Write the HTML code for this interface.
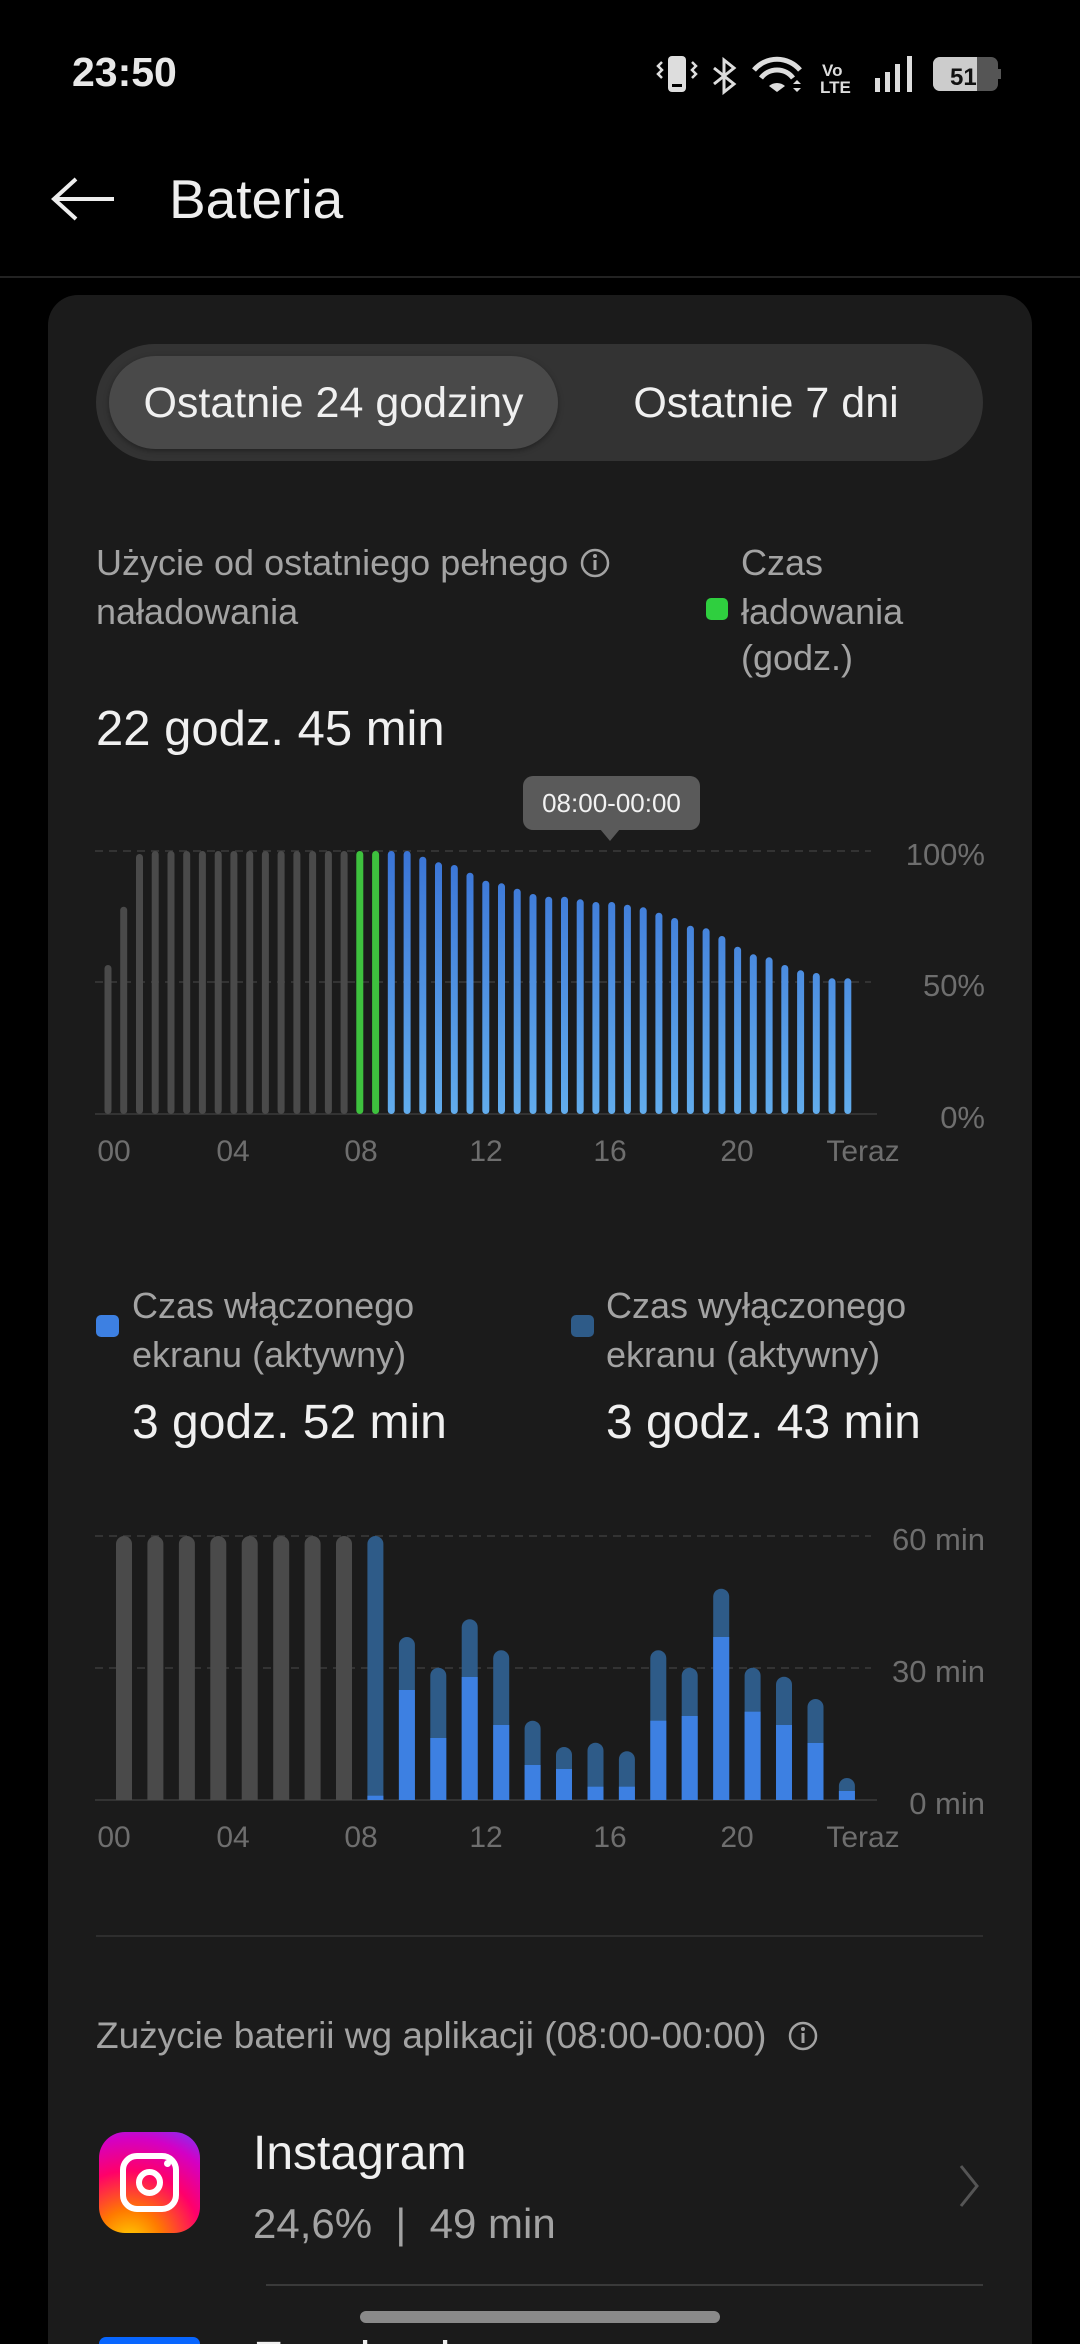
<!DOCTYPE html>
<html><head><meta charset="utf-8">
<style>
*{margin:0;padding:0;box-sizing:border-box}
html,body{width:1080px;height:2344px;overflow:hidden}
body{background:#000;position:relative;font-family:"Liberation Sans","DejaVu Sans",sans-serif;color:#f0f0f0}
.t{position:absolute;white-space:nowrap;line-height:1}
.card{position:absolute;left:48px;top:295px;width:984px;height:2049px;background:#1b1b1b;border-radius:30px 30px 0 0}
.sec{color:#a3a3a3}
</style></head><body>
<div class="t" style="left:72px;top:52px;font-size:41px;font-weight:bold;color:#e8e8e8">23:50</div>
<svg style="position:absolute;left:640px;top:40px" width="380" height="70">
 <rect x="28" y="16" width="18" height="36" rx="4" fill="#ddd"/><rect x="32" y="44" width="10" height="3" fill="#000"/>
 <path d="M22 22 l-4 4 4 4 -4 4 4 4 M52 22 l4 4 -4 4 4 4 -4 4" stroke="#ddd" stroke-width="2.5" fill="none"/>
 <path d="M74 28 l20 16 -10 8 v-32 l10 8 -20 16" stroke="#ddd" stroke-width="3" fill="none"/>
 <path d="M114 30 a30 30 0 0 1 46 0" stroke="#ddd" stroke-width="5" fill="none"/>
 <path d="M121 38 a20 20 0 0 1 32 0" stroke="#ddd" stroke-width="5" fill="none"/>
 <path d="M129 46 l8 6 8 -6 a12 12 0 0 0 -16 0z" fill="#ddd"/>
 <path d="M153 44 l4 -4 4 4z M153 48 l4 4 4 -4z" fill="#ddd"/>
 <text x="182" y="36" font-size="17" font-weight="bold" fill="#ddd" font-family="Liberation Sans">Vo</text>
 <text x="180" y="53" font-size="17" font-weight="bold" fill="#ddd" font-family="Liberation Sans">LTE</text>
 <rect x="235" y="38" width="5" height="14" fill="#ddd"/><rect x="245" y="32" width="5" height="20" fill="#ddd"/><rect x="255" y="24" width="5" height="28" fill="#ddd"/><rect x="267" y="16" width="5" height="36" fill="#ddd"/>
 <rect x="293" y="17" width="65" height="34" rx="7" fill="#555"/><path d="M300 17 h37 v34 h-37 a7 7 0 0 1 -7 -7 v-20 a7 7 0 0 1 7 -7z" fill="#ccc"/>
 <rect x="358" y="29" width="3" height="10" fill="#555"/>
 <text x="310" y="45" font-size="24" font-weight="bold" fill="#111" font-family="Liberation Sans">51</text>
</svg>
<svg style="position:absolute;left:50px;top:177px" width="70" height="45"><path d="M4 22 H64 M26 2 L4 22 L26 42" stroke="#eee" stroke-width="4" fill="none"/></svg>
<div class="t" style="left:169px;top:172px;font-size:55px;color:#eee">Bateria</div>
<div style="position:absolute;left:0;top:276px;width:1080px;height:2px;background:#222"></div>

<div class="card"></div>
<div style="position:absolute;left:96px;top:344px;width:887px;height:117px;background:#333;border-radius:59px"></div>
<div style="position:absolute;left:109px;top:356px;width:449px;height:93px;background:#494949;border-radius:47px;box-shadow:0 2px 6px rgba(0,0,0,.35)"></div>
<div class="t" style="left:109px;width:449px;text-align:center;top:382px;font-size:43px">Ostatnie 24 godziny</div>
<div class="t" style="left:558px;width:416px;text-align:center;top:382px;font-size:43px">Ostatnie 7 dni</div>

<div class="t sec" style="left:96px;top:545px;font-size:36px">Użycie od ostatniego pełnego</div>
<svg style="position:absolute;left:579px;top:547px" width="32" height="32"><circle cx="16" cy="16" r="13" stroke="#a3a3a3" stroke-width="2.5" fill="none"/><rect x="14.5" y="13" width="3" height="10" fill="#a3a3a3"/><circle cx="16" cy="9" r="2" fill="#a3a3a3"/></svg>
<div class="t sec" style="left:96px;top:594px;font-size:36px">naładowania</div>
<div class="t sec" style="left:741px;top:545px;font-size:36px">Czas</div>
<div style="position:absolute;left:706px;top:598px;width:22px;height:22px;border-radius:5px;background:#2fcf3f"></div>
<div class="t sec" style="left:741px;top:594px;font-size:36px">ładowania</div>
<div class="t sec" style="left:741px;top:640px;font-size:36px">(godz.)</div>
<div class="t" style="left:96px;top:705px;font-size:49px">22 godz. 45 min</div>

<svg style="position:absolute;left:0;top:0" width="1080" height="2344" font-family="Liberation Sans">
<defs>
<linearGradient id="bg" x1="0" y1="851" x2="0" y2="1114" gradientUnits="userSpaceOnUse"><stop offset="0" stop-color="#3a74d6"/><stop offset="1" stop-color="#62acec"/></linearGradient>
<clipPath id="c2"><rect x="0" y="1400" width="1080" height="400"/></clipPath>
</defs>
<rect x="523" y="776" width="177" height="54" rx="10" fill="#5a5a5a"/>
<path d="M600 829 L610 841 L620 829z" fill="#5a5a5a"/>
<text x="611.5" y="812" font-size="26" fill="#f2f2f2" text-anchor="middle">08:00-00:00</text>
<line x1="95" y1="851" x2="871" y2="851" stroke="#333" stroke-width="2" stroke-dasharray="8 6"/>
<line x1="95" y1="982" x2="871" y2="982" stroke="#333" stroke-width="2" stroke-dasharray="8 6"/>
<line x1="95" y1="1114" x2="877" y2="1114" stroke="#333" stroke-width="2"/>
<g fill="#4a4a4a">
<rect x="104.5" y="965" width="7" height="149" rx="3.5"/>
<rect x="120.2" y="906.7" width="7" height="207.3" rx="3.5"/>
<rect x="136.0" y="854" width="7" height="260" rx="3.5"/>
<rect x="151.7" y="851" width="7" height="263" rx="3.5"/>
<rect x="167.5" y="851" width="7" height="263" rx="3.5"/>
<rect x="183.2" y="851" width="7" height="263" rx="3.5"/>
<rect x="198.9" y="851" width="7" height="263" rx="3.5"/>
<rect x="214.7" y="851" width="7" height="263" rx="3.5"/>
<rect x="230.4" y="851" width="7" height="263" rx="3.5"/>
<rect x="246.2" y="851" width="7" height="263" rx="3.5"/>
<rect x="261.9" y="851" width="7" height="263" rx="3.5"/>
<rect x="277.6" y="851" width="7" height="263" rx="3.5"/>
<rect x="293.4" y="851" width="7" height="263" rx="3.5"/>
<rect x="309.1" y="851" width="7" height="263" rx="3.5"/>
<rect x="324.9" y="851" width="7" height="263" rx="3.5"/>
<rect x="340.6" y="851" width="7" height="263" rx="3.5"/>
</g>
<g fill="#3ec13e">
<rect x="356.3" y="851" width="7" height="263" rx="3.5"/>
<rect x="372.1" y="851" width="7" height="263" rx="3.5"/>
</g>
<g fill="url(#bg)">
<rect x="387.8" y="851" width="7" height="263" rx="3.5"/>
<rect x="403.6" y="851" width="7" height="263" rx="3.5"/>
<rect x="419.3" y="856.7" width="7" height="257.3" rx="3.5"/>
<rect x="435.0" y="862.3" width="7" height="251.7" rx="3.5"/>
<rect x="450.8" y="865" width="7" height="249" rx="3.5"/>
<rect x="466.5" y="872.7" width="7" height="241.3" rx="3.5"/>
<rect x="482.3" y="880.7" width="7" height="233.3" rx="3.5"/>
<rect x="498.0" y="883.3" width="7" height="230.7" rx="3.5"/>
<rect x="513.7" y="888.7" width="7" height="225.3" rx="3.5"/>
<rect x="529.5" y="894" width="7" height="220" rx="3.5"/>
<rect x="545.2" y="896.7" width="7" height="217.3" rx="3.5"/>
<rect x="561.0" y="896.7" width="7" height="217.3" rx="3.5"/>
<rect x="576.7" y="899.3" width="7" height="214.7" rx="3.5"/>
<rect x="592.4" y="902" width="7" height="212" rx="3.5"/>
<rect x="608.2" y="902" width="7" height="212" rx="3.5"/>
<rect x="623.9" y="904.7" width="7" height="209.3" rx="3.5"/>
<rect x="639.7" y="907.3" width="7" height="206.7" rx="3.5"/>
<rect x="655.4" y="912.7" width="7" height="201.3" rx="3.5"/>
<rect x="671.1" y="918" width="7" height="196" rx="3.5"/>
<rect x="686.9" y="925.7" width="7" height="188.3" rx="3.5"/>
<rect x="702.6" y="928.3" width="7" height="185.7" rx="3.5"/>
<rect x="718.4" y="936" width="7" height="178" rx="3.5"/>
<rect x="734.1" y="946.7" width="7" height="167.3" rx="3.5"/>
<rect x="749.8" y="954.3" width="7" height="159.7" rx="3.5"/>
<rect x="765.6" y="957.3" width="7" height="156.7" rx="3.5"/>
<rect x="781.3" y="965" width="7" height="149" rx="3.5"/>
<rect x="797.1" y="970.3" width="7" height="143.7" rx="3.5"/>
<rect x="812.8" y="973" width="7" height="141" rx="3.5"/>
<rect x="828.5" y="978.3" width="7" height="135.7" rx="3.5"/>
<rect x="844.3" y="978.3" width="7" height="135.7" rx="3.5"/>
</g>
<g fill="#6e6e6e" font-size="31" text-anchor="end">
<text x="985" y="865">100%</text><text x="985" y="996">50%</text><text x="985" y="1128">0%</text>
</g>
<g fill="#6e6e6e" font-size="30" text-anchor="middle">
<text x="114" y="1161">00</text><text x="233" y="1161">04</text><text x="361" y="1161">08</text><text x="486" y="1161">12</text><text x="610" y="1161">16</text><text x="737" y="1161">20</text><text x="863" y="1161">Teraz</text>
</g>

<line x1="95" y1="1536" x2="871" y2="1536" stroke="#333" stroke-width="2" stroke-dasharray="8 6"/>
<line x1="95" y1="1668" x2="871" y2="1668" stroke="#333" stroke-width="2" stroke-dasharray="8 6"/>
<line x1="95" y1="1800" x2="877" y2="1800" stroke="#333" stroke-width="2"/>
<g clip-path="url(#c2)">
<g fill="#4a4a4a">
<rect x="116" y="1536" width="16" height="280" rx="8"/>
<rect x="147.4" y="1536" width="16" height="280" rx="8"/>
<rect x="178.9" y="1536" width="16" height="280" rx="8"/>
<rect x="210.3" y="1536" width="16" height="280" rx="8"/>
<rect x="241.7" y="1536" width="16" height="280" rx="8"/>
<rect x="273.2" y="1536" width="16" height="280" rx="8"/>
<rect x="304.6" y="1536" width="16" height="280" rx="8"/>
<rect x="336.0" y="1536" width="16" height="280" rx="8"/>
</g>
<g fill="#2e5b88">
<rect x="367.4" y="1536" width="16" height="280" rx="8"/>
<rect x="398.9" y="1637" width="16" height="200" rx="8"/>
<rect x="430.3" y="1667.7" width="16" height="200" rx="8"/>
<rect x="461.7" y="1619.3" width="16" height="200" rx="8"/>
<rect x="493.2" y="1650.3" width="16" height="200" rx="8"/>
<rect x="524.6" y="1720.7" width="16" height="200" rx="8"/>
<rect x="556.0" y="1747" width="16" height="200" rx="8"/>
<rect x="587.5" y="1742.7" width="16" height="200" rx="8"/>
<rect x="618.9" y="1751.3" width="16" height="200" rx="8"/>
<rect x="650.3" y="1650.3" width="16" height="200" rx="8"/>
<rect x="681.7" y="1667.7" width="16" height="200" rx="8"/>
<rect x="713.2" y="1588.7" width="16" height="250" rx="8"/>
<rect x="744.6" y="1667.7" width="16" height="200" rx="8"/>
<rect x="776.0" y="1676.7" width="16" height="200" rx="8"/>
<rect x="807.5" y="1699" width="16" height="200" rx="8"/>
<rect x="838.9" y="1778" width="16" height="200" rx="8"/>
</g>
<g fill="#3d80e2">
<rect x="367.4" y="1795.7" width="16" height="5"/>
<rect x="398.9" y="1690" width="16" height="110"/>
<rect x="430.3" y="1738" width="16" height="62"/>
<rect x="461.7" y="1677" width="16" height="123"/>
<rect x="493.2" y="1725" width="16" height="75"/>
<rect x="524.6" y="1765" width="16" height="35"/>
<rect x="556.0" y="1769" width="16" height="31"/>
<rect x="587.5" y="1786.7" width="16" height="14"/>
<rect x="618.9" y="1786.7" width="16" height="14"/>
<rect x="650.3" y="1720.7" width="16" height="80"/>
<rect x="681.7" y="1716" width="16" height="84"/>
<rect x="713.2" y="1637" width="16" height="163"/>
<rect x="744.6" y="1711.7" width="16" height="89"/>
<rect x="776.0" y="1725" width="16" height="75"/>
<rect x="807.5" y="1743" width="16" height="57"/>
<rect x="838.9" y="1791" width="16" height="9"/>
</g>
</g>
<g fill="#6e6e6e" font-size="31" text-anchor="end">
<text x="985" y="1550">60 min</text><text x="985" y="1682">30 min</text><text x="985" y="1814">0 min</text>
</g>
<g fill="#6e6e6e" font-size="30" text-anchor="middle">
<text x="114" y="1847">00</text><text x="233" y="1847">04</text><text x="361" y="1847">08</text><text x="486" y="1847">12</text><text x="610" y="1847">16</text><text x="737" y="1847">20</text><text x="863" y="1847">Teraz</text>
</g>
</svg>

<div style="position:absolute;left:96px;top:1315px;width:23px;height:22px;border-radius:5px;background:#3d80e2"></div>
<div class="t sec" style="left:132px;top:1288px;font-size:36px">Czas włączonego</div>
<div class="t sec" style="left:132px;top:1337px;font-size:36px">ekranu (aktywny)</div>
<div class="t" style="left:132px;top:1399px;font-size:48px">3 godz. 52 min</div>
<div style="position:absolute;left:571px;top:1315px;width:23px;height:22px;border-radius:5px;background:#2e5b88"></div>
<div class="t sec" style="left:606px;top:1288px;font-size:36px">Czas wyłączonego</div>
<div class="t sec" style="left:606px;top:1337px;font-size:36px">ekranu (aktywny)</div>
<div class="t" style="left:606px;top:1399px;font-size:48px">3 godz. 43 min</div>

<div style="position:absolute;left:96px;top:1935px;width:887px;height:2px;background:#2e2e2e"></div>
<div class="t sec" style="left:96px;top:2017px;font-size:37px">Zużycie baterii wg aplikacji (08:00-00:00)</div>
<svg style="position:absolute;left:787px;top:2020px" width="32" height="32"><circle cx="16" cy="16" r="13" stroke="#a3a3a3" stroke-width="2.5" fill="none"/><rect x="14.5" y="13" width="3" height="10" fill="#a3a3a3"/><circle cx="16" cy="9" r="2" fill="#a3a3a3"/></svg>

<div style="position:absolute;left:99px;top:2132px;width:101px;height:101px;border-radius:26px;background:radial-gradient(circle at 30% 110%,#ffd600 0%,#ff7a00 25%,#ff0069 55%,#d300c5 80%,#7638fa 100%)"></div>
<div style="position:absolute;left:120px;top:2153px;width:59px;height:59px;border:6px solid #fff;border-radius:17px"></div>
<div style="position:absolute;left:136px;top:2169px;width:27px;height:27px;border:6px solid #fff;border-radius:50%"></div>
<div style="position:absolute;left:164px;top:2160px;width:7px;height:7px;background:#fff;border-radius:50%"></div>
<div class="t" style="left:253px;top:2130px;font-size:48px">Instagram</div>
<div class="t sec" style="left:253px;top:2203px;font-size:42px">24,6%&nbsp;&nbsp;|&nbsp;&nbsp;49 min</div>
<svg style="position:absolute;left:955px;top:2162px" width="30" height="50"><path d="M6 4 L22 24 L6 44" stroke="#555" stroke-width="3" fill="none"/></svg>
<div style="position:absolute;left:266px;top:2284px;width:717px;height:2px;background:#3a3a3a"></div>
<div style="position:absolute;left:99px;top:2337px;width:101px;height:7px;border-radius:20px 20px 0 0;background:#0866ff"></div>
<div class="t" style="left:253px;top:2336px;font-size:48px">Facebook</div>
<div style="position:absolute;left:360px;top:2311px;width:360px;height:12px;border-radius:6px;background:#8a8a8a"></div>
</body></html>
